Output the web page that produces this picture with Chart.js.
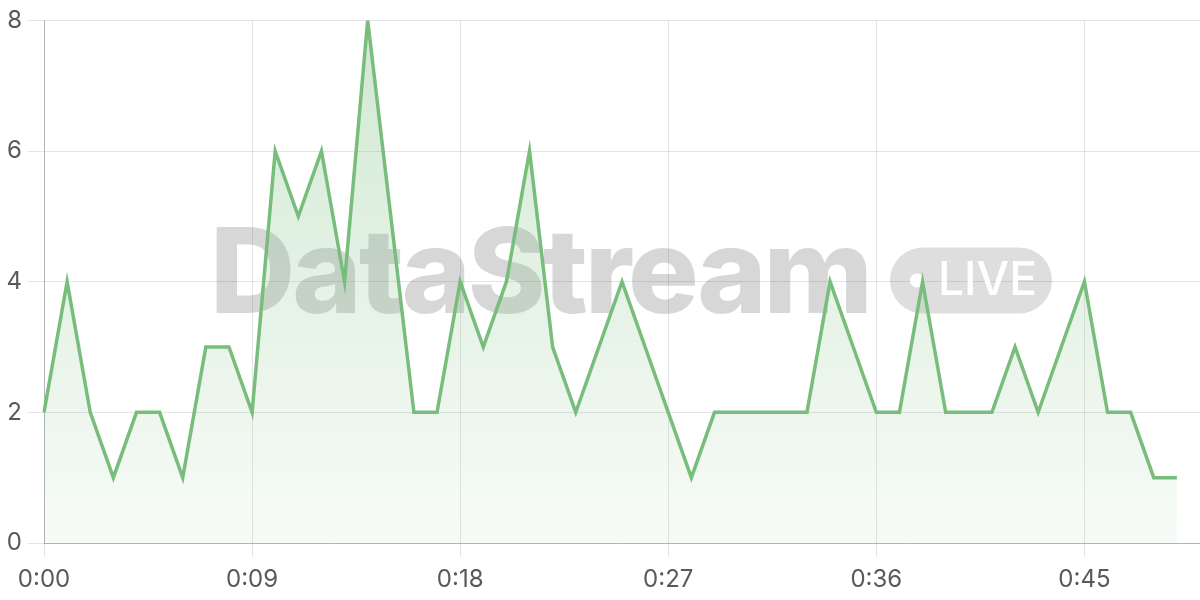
<!DOCTYPE html>
<html lang="en">
<head>
    <meta charset="UTF-8">
    <title>DataStream</title>
    <style>
        html, body { margin:0; padding:0; background:#fff; overflow:hidden; }
        #wrap { width:1200px; height:600px; }
    </style>
    <script src="https://cdn.jsdelivr.net/npm/chart.js"></script>
</head>
<body>

<div id="wrap"><canvas id="streamChart"></canvas></div>

<script>
// one label per slot, the last slot stays empty
const labels = [
  '0:00','0:01','0:02','0:03','0:04','0:05','0:06','0:07','0:08','0:09',
  '0:10','0:11','0:12','0:13','0:14','0:15','0:16','0:17','0:18','0:19',
  '0:20','0:21','0:22','0:23','0:24','0:25','0:26','0:27','0:28','0:29',
  '0:30','0:31','0:32','0:33','0:34','0:35','0:36','0:37','0:38','0:39',
  '0:40','0:41','0:42','0:43','0:44','0:45','0:46','0:47','0:48','0:49',
  '0:50'
];
const counts = [
  2, 4, 2, 1, 2, 2, 1, 3, 3, 2,
  6, 5, 6, 4, 8, 5, 2, 2, 4, 3,
  4, 6, 3, 2, 3, 4, 3, 2, 1, 2,
  2, 2, 2, 2, 4, 3, 2, 2, 4, 2,
  2, 2, 3, 2, 3, 4, 2, 2, 1, 1
];
const yTicks = [0, 2, 4, 6, 8];
const labelEvery = 9;
const watermark = 'DataStream';
const badge = 'LIVE';

const green = 'rgb(120, 189, 124)';
const gridColor = 'rgba(0, 0, 0, 0.1)';
const borderColor = 'rgba(0, 0, 0, 0.22)';
const tickFont = { family: 'Inter', size: 24 };

// big grey brand mark across the middle of the plot
const watermarkPlugin = {
  id: 'watermark',
  beforeDatasetsDraw(chart) {
    var ctx = chart.ctx;
    var area = chart.chartArea;
    var cx = (area.left + area.right) / 2;
    var base = area.top + 293;
    ctx.save();
    ctx.fillStyle = 'rgba(0, 0, 0, 0.155)';
    ctx.font = '800 118px Inter';
    ctx.textBaseline = 'alphabetic';
    ctx.textAlign = 'left';
    var tw = ctx.measureText(watermark).width;
    ctx.letterSpacing = ((660 - tw) / watermark.length) + 'px';
    ctx.fillText(watermark, cx - 412, base);
    ctx.letterSpacing = '0px';

    // pill badge
    var px = cx + 268, py = base - 66, pw = 162, ph = 66, r = 33;
    ctx.fillStyle = 'rgba(0, 0, 0, 0.13)';
    ctx.beginPath();
    ctx.roundRect(px, py, pw, ph, r);
    ctx.fill();
    ctx.fillStyle = '#ffffff';
    ctx.beginPath();
    ctx.arc(px + 27, py + ph / 2, 7, 0, Math.PI * 2);
    ctx.fill();
    ctx.font = '500 46px Inter';
    ctx.textBaseline = 'middle';
    ctx.fillText(badge, px + 48, py + ph / 2 + 1);
    ctx.restore();
  }
};

const config = {
  type: 'line',
  data: {
    labels: labels,
    datasets: [{
      label: 'Count',
      data: counts,
      borderColor: green,
      borderWidth: 3.5,
      tension: 0,
      pointRadius: 0,
      fill: 'origin',
      backgroundColor: function(context) {
        var chart = context.chart;
        var area = chart.chartArea;
        if (!area) return 'rgba(120, 189, 124, 0.15)';
        var g = chart.ctx.createLinearGradient(0, area.top, 0, area.bottom);
        g.addColorStop(0, 'rgba(120, 189, 124, 0.34)');
        g.addColorStop(1, 'rgba(120, 189, 124, 0.06)');
        return g;
      }
    }]
  },
  options: {
    responsive: true,
    maintainAspectRatio: false,
    animation: false,
    layout: { autoPadding: false, padding: { top: 20, right: 0, bottom: 0, left: 0 } },
    plugins: {
      legend: { display: false },
      tooltip: { enabled: false }
    },
    scales: {
      x: {
        afterFit: function(scale) {
          scale.height = 57;
          scale.paddingRight = 0;
        },
        grid: {
          color: function(context) {
            return context.index % labelEvery === 0 ? gridColor : 'transparent';
          },
          tickLength: 14
        },
        border: { color: borderColor },
        ticks: {
          autoSkip: false,
          maxRotation: 0,
          padding: 8,
          color: '#595959',
          font: tickFont,
          callback: function(value, index) {
            return index % labelEvery === 0 ? labels[index] : '';
          }
        }
      },
      y: {
        min: yTicks[0],
        max: yTicks[yTicks.length - 1],
        afterBuildTicks: function(scale) {
          scale.ticks = yTicks.map(v => ({ value: v }));
        },
        afterFit: function(scale) {
          scale.width = 44;
        },
        grid: { color: gridColor, tickLength: 16 },
        border: { color: borderColor },
        ticks: {
          padding: 6,
          color: '#595959',
          font: tickFont
        }
      }
    }
  },
  plugins: [watermarkPlugin]
};

var streamChart = new Chart(document.getElementById('streamChart'), config);
</script>

</body>
</html>
